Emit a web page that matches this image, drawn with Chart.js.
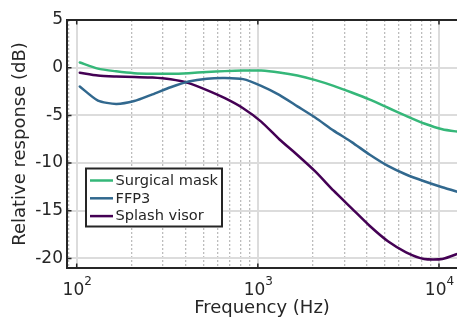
<!DOCTYPE html>
<html><head><meta charset="utf-8">
<script src="https://cdn.jsdelivr.net/npm/chart.js@4/dist/chart.umd.min.js"></script>
<style>html,body{margin:0;padding:0;background:#fff}canvas{display:block}</style>
</head><body>
<canvas id="c" width="457" height="320"></canvas>
<script>
// ---- data ----
const frequencies = [104, 131, 165, 208, 262, 330, 415, 523, 658, 829, 1043, 1313, 1653, 2081, 2620, 3298, 4152, 5227, 6580, 8284, 10429, 13129];
const surgicalMask = [0.55, -0.1, -0.38, -0.58, -0.64, -0.64, -0.57, -0.46, -0.36, -0.3, -0.3, -0.5, -0.82, -1.3, -1.9, -2.6, -3.35, -4.2, -5.05, -5.85, -6.45, -6.75];
const ffp3 = [-1.97, -3.45, -3.8, -3.5, -2.8, -2.05, -1.45, -1.15, -1.08, -1.2, -1.9, -2.85, -4.05, -5.25, -6.6, -7.8, -9.13, -10.3, -11.2, -11.9, -12.53, -13.1];
const splashVisor = [-0.52, -0.82, -0.92, -0.98, -1.03, -1.22, -1.62, -2.35, -3.2, -4.25, -5.65, -7.5, -9.15, -10.9, -12.9, -14.75, -16.6, -18.2, -19.35, -20.05, -20.05, -19.4];
const seriesLabels = ['Surgical mask', 'FFP3', 'Splash visor'];
const yTicks = [-20, -15, -10, -5, 0, 5];
const xMajorTicks = [100, 1000, 10000];
const xTickBase = '10';
const xTickExponents = ['2', '3', '4'];
const xTitle = 'Frequency (Hz)';
const yTitle = 'Relative response (dB)';

// ---- styling ----
const FONT = "'DejaVu Sans', sans-serif";
const TEXT = '#262626';
const colors = ['#35b779', '#31688e', '#440154'];
const isDecade = v => Math.abs(Math.log10(v) - Math.round(Math.log10(v))) < 1e-9;
const isNice = v => { const e = Math.floor(Math.log10(v) + 1e-9); const s = v / Math.pow(10, e); return Math.abs(s - Math.round(s)) < 1e-6; };

const toPts = arr => frequencies.map((f, i) => ({x: f, y: arr[i]}));

const framePlugin = {
  id: 'frame',
  afterDatasetsDraw(chart) {
    const {ctx, chartArea: a, scales: {x, y}} = chart;
    ctx.save();
    ctx.strokeStyle = TEXT;
    ctx.lineWidth = 1.5;
    ctx.beginPath();
    yTicks.forEach(v => { const py = y.getPixelForValue(v); ctx.moveTo(a.left, py); ctx.lineTo(a.left + 4.5, py); });
    xMajorTicks.forEach(v => {
      const px = x.getPixelForValue(v);
      ctx.moveTo(px, a.bottom); ctx.lineTo(px, a.bottom - 4.5);
      ctx.moveTo(px, a.top); ctx.lineTo(px, a.top + 4.5);
    });
    ctx.stroke();
    ctx.lineWidth = 2;
    ctx.beginPath();
    ctx.moveTo(a.right + 2, a.top); ctx.lineTo(a.left, a.top); ctx.lineTo(a.left, a.bottom); ctx.lineTo(a.right + 2, a.bottom);
    ctx.stroke();
    // x tick labels with superscript exponents
    ctx.fillStyle = TEXT;
    ctx.textBaseline = 'alphabetic';
    ctx.textAlign = 'left';
    xMajorTicks.forEach((v, i) => {
      const px = x.getPixelForValue(v);
      ctx.font = '17px ' + FONT;
      const w1 = ctx.measureText(xTickBase).width;
      ctx.font = '12px ' + FONT;
      const w2 = ctx.measureText(xTickExponents[i]).width;
      const sx = px - (w1 + w2) / 2 + 0.5;
      ctx.font = '17px ' + FONT;
      ctx.fillText(xTickBase, sx, a.bottom + 27);
      ctx.font = '12px ' + FONT;
      ctx.fillText(xTickExponents[i], sx + w1, a.bottom + 17);
    });
    ctx.restore();
  }
};

const legendPlugin = {
  id: 'boxLegend',
  afterDraw(chart) {
    const {ctx, chartArea: a} = chart;
    const x0 = a.left + 19, y0 = 168.5, w = 136, h = 58;
    ctx.save();
    ctx.fillStyle = '#fff';
    ctx.fillRect(x0, y0, w, h);
    ctx.strokeStyle = TEXT;
    ctx.lineWidth = 2;
    ctx.strokeRect(x0, y0, w, h);
    ctx.font = '14.6px ' + FONT;
    ctx.textBaseline = 'middle';
    ctx.textAlign = 'left';
    chart.data.datasets.forEach((ds, i) => {
      const ry = y0 + 12 + i * 17.8;
      ctx.strokeStyle = ds.borderColor;
      ctx.lineWidth = 2.5;
      ctx.beginPath();
      ctx.moveTo(x0 + 4, ry); ctx.lineTo(x0 + 27, ry);
      ctx.stroke();
      ctx.fillStyle = TEXT;
      ctx.fillText(ds.label, x0 + 29.5, ry + 0.5);
    });
    ctx.restore();
  }
};

new Chart(document.getElementById('c'), {
  type: 'line',
  data: {
    datasets: [
      {label: seriesLabels[0], data: toPts(surgicalMask), borderColor: colors[0]},
      {label: seriesLabels[1], data: toPts(ffp3), borderColor: colors[1]},
      {label: seriesLabels[2], data: toPts(splashVisor), borderColor: colors[2]}
    ]
  },
  options: {
    responsive: false,
    devicePixelRatio: 1,
    animation: false,
    events: [],
    layout: {padding: {top: 20, right: 0, left: 0, bottom: 0}},
    elements: {
      point: {radius: 0},
      line: {borderWidth: 2.5, tension: 0.22, fill: false, borderJoinStyle: 'round', borderCapStyle: 'round'}
    },
    plugins: {legend: {display: false}, tooltip: {enabled: false}},
    scales: {
      x: {
        type: 'logarithmic',
        min: 88.4,
        max: 12574,
        afterBuildTicks: s => { s.ticks = s.ticks.filter(t => isNice(t.value)); },
        afterFit: s => { s.height = 52; s.paddingLeft = 0; s.paddingRight = 0; },
        ticks: {display: false, autoSkip: false},
        grid: {
          drawTicks: false,
          color: c => (c.tick && isDecade(c.tick.value)) ? '#dcdcdc' : '#bdbdbd',
          lineWidth: c => (c.tick && isDecade(c.tick.value)) ? 2 : 1.3
        },
        border: {
          display: false,
          dash: c => (c.tick && !isDecade(c.tick.value)) ? [2, 2] : []
        },
        title: {display: true, text: xTitle, color: TEXT, font: {family: FONT, size: 18}, padding: {top: 0, bottom: 1}}
      },
      y: {
        type: 'linear',
        min: -21,
        max: 5,
        afterFit: s => { s.width = 67; s.paddingTop = 0; s.paddingBottom = 0; },
        ticks: {
          stepSize: 5, includeBounds: false, padding: 4, color: TEXT,
          font: {family: FONT, size: 17},
          callback: v => String(v)
        },
        afterBuildTicks: s => { s.ticks = yTicks.map(v => ({value: v})); },
        grid: {drawTicks: false, color: '#dcdcdc', lineWidth: 2},
        border: {display: false},
        title: {display: true, text: yTitle, color: TEXT, font: {family: FONT, size: 18}, padding: {top: 10, bottom: 0}}
      }
    }
  },
  plugins: [framePlugin, legendPlugin]
});
</script>
</body></html>
